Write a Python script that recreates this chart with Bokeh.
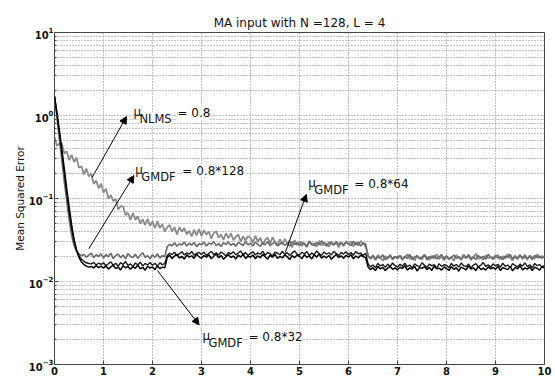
from bokeh.plotting import figure
from bokeh.models import FixedTicker, Arrow, NormalHead, Label, Range1d
from bokeh.embed import file_html
from bokeh.resources import INLINE

TITLE = "MA input with N =128, L = 4"
Y_LABEL = "Mean Squared Error"
X_TICKS = [0, 1, 2, 3, 4, 5, 6, 7, 8, 9, 10]
Y_TICKS = [1e-3, 1e-2, 1e-1, 1e0, 1e1]

# sample times: 0.05 steps from 0 to 10 (201 samples)
T = [round(0.05 * i, 2) for i in range(201)]

# NLMS, mu = 0.8 (grey) -- rows of 20 samples per unit of time
MSE_NLMS = [
    0.55, 0.43, 0.46, 0.46, 0.35, 0.37, 0.29, 0.335, 0.275, 0.31, 0.235, 0.245, 0.195, 0.23, 0.185, 0.20, 0.15, 0.165, 0.133, 0.151,
    0.118, 0.131, 0.099, 0.110, 0.093, 0.099, 0.074, 0.081, 0.080, 0.063, 0.067, 0.055, 0.067, 0.055, 0.061, 0.050, 0.056, 0.048, 0.057, 0.047,
    0.053, 0.044, 0.053, 0.044, 0.049, 0.040, 0.045, 0.048, 0.040, 0.045, 0.037, 0.045, 0.040, 0.044, 0.037, 0.041, 0.035, 0.042, 0.036, 0.043,
    0.0353, 0.0415, 0.0367, 0.0401, 0.0328, 0.0383, 0.0405, 0.0337, 0.0367, 0.0318, 0.0382, 0.0333, 0.0382, 0.0314, 0.0345, 0.0369, 0.0302, 0.0350, 0.0312, 0.0352,
    0.0337, 0.0293, 0.0355, 0.0302, 0.0338, 0.0276, 0.0318, 0.0338, 0.0286, 0.0343, 0.0295, 0.0272, 0.0324, 0.0280, 0.0326, 0.0288, 0.0310, 0.0258, 0.0314, 0.0275,
    0.0301, 0.0268, 0.0292, 0.0259, 0.0305, 0.0276, 0.0288, 0.0262, 0.0310, 0.0271, 0.0296, 0.0283, 0.0264, 0.0302, 0.0277, 0.0293, 0.0258, 0.0299, 0.0272, 0.0307,
    0.0279, 0.0303, 0.0266, 0.0294, 0.0271, 0.0309, 0.0285, 0.0262, 0.0206, 0.0188, 0.0201, 0.0182, 0.0209, 0.0192, 0.0178, 0.0203, 0.0187, 0.0211, 0.0184, 0.0197,
    0.0189, 0.0205, 0.0181, 0.0198, 0.0213, 0.0186, 0.0200, 0.0179, 0.0207, 0.0192, 0.0184, 0.0210, 0.0195, 0.0182, 0.0203, 0.0189, 0.0214, 0.0186, 0.0199, 0.0180,
    0.0204, 0.0188, 0.0196, 0.0177, 0.0208, 0.0193, 0.0185, 0.0212, 0.0190, 0.0201, 0.0181, 0.0198, 0.0216, 0.0187, 0.0194, 0.0183, 0.0206, 0.0191, 0.0200, 0.0185,
    0.0197, 0.0209, 0.0184, 0.0202, 0.0189, 0.0215, 0.0193, 0.0180, 0.0205, 0.0190, 0.0211, 0.0186, 0.0199, 0.0182, 0.0207, 0.0194, 0.0188, 0.0213, 0.0191, 0.0203,
    0.0196]

# GMDF, mu = 0.8*128 (dark grey)
MSE_G128 = [
    1.70, 0.95, 0.52, 0.29, 0.16, 0.092, 0.055, 0.036, 0.027, 0.023, 0.0215, 0.0205, 0.0212, 0.0196, 0.0208, 0.0219, 0.0194, 0.0210, 0.0201, 0.0215,
    0.0192, 0.0211, 0.0198, 0.0220, 0.0189, 0.0206, 0.0215, 0.0193, 0.0209, 0.0187, 0.0218, 0.0200, 0.0194, 0.0213, 0.0190, 0.0207, 0.0222, 0.0196, 0.0204, 0.0188,
    0.0210, 0.0195, 0.0216, 0.0191, 0.0205, 0.0199, 0.0262, 0.0281, 0.0270, 0.0293, 0.0266, 0.0285, 0.0276, 0.0298, 0.0268, 0.0289, 0.0274, 0.0295, 0.0263, 0.0284,
    0.0278, 0.0299, 0.0267, 0.0290, 0.0281, 0.0303, 0.0270, 0.0287, 0.0264, 0.0294, 0.0279, 0.0300, 0.0272, 0.0288, 0.0266, 0.0296, 0.0283, 0.0271, 0.0301, 0.0277,
    0.0290, 0.0268, 0.0297, 0.0280, 0.0265, 0.0292, 0.0276, 0.0304, 0.0271, 0.0286, 0.0299, 0.0269, 0.0283, 0.0295, 0.0273, 0.0289, 0.0266, 0.0302, 0.0279, 0.0293,
    0.0272, 0.0298, 0.0281, 0.0267, 0.0306, 0.0284, 0.0270, 0.0295, 0.0277, 0.0309, 0.0282, 0.0268, 0.0297, 0.0286, 0.0274, 0.0303, 0.0279, 0.0291, 0.0270, 0.0300,
    0.0285, 0.0271, 0.0304, 0.0278, 0.0296, 0.0268, 0.0291, 0.0283, 0.0201, 0.0189, 0.0207, 0.0185, 0.0198, 0.0192, 0.0210, 0.0183, 0.0196, 0.0204, 0.0187, 0.0200,
    0.0193, 0.0206, 0.0186, 0.0199, 0.0190, 0.0212, 0.0184, 0.0197, 0.0203, 0.0188, 0.0195, 0.0209, 0.0182, 0.0200, 0.0191, 0.0205, 0.0187, 0.0198, 0.0211, 0.0189,
    0.0202, 0.0185, 0.0196, 0.0208, 0.0190, 0.0199, 0.0183, 0.0204, 0.0193, 0.0210, 0.0188, 0.0197, 0.0185, 0.0206, 0.0192, 0.0201, 0.0186, 0.0213, 0.0194, 0.0189,
    0.0207, 0.0191, 0.0199, 0.0184, 0.0203, 0.0195, 0.0211, 0.0188, 0.0198, 0.0186, 0.0205, 0.0193, 0.0209, 0.0190, 0.0200, 0.0184, 0.0206, 0.0196, 0.0202, 0.0192,
    0.0198]

# GMDF, mu = 0.8*64 (black)
MSE_G64 = [
    1.70, 1.02, 0.60, 0.35, 0.20, 0.115, 0.068, 0.043, 0.030, 0.024, 0.0205, 0.0185, 0.0175, 0.0168, 0.0165, 0.0163, 0.0170, 0.0158, 0.0166, 0.0161,
    0.0168, 0.0155, 0.0164, 0.0172, 0.0157, 0.0166, 0.0152, 0.0169, 0.0160, 0.0174, 0.0156, 0.0163, 0.0151, 0.0167, 0.0159, 0.0171, 0.0154, 0.0165, 0.0158, 0.0169,
    0.0157, 0.0166, 0.0153, 0.0168, 0.0160, 0.0164, 0.0206, 0.0219, 0.0211, 0.0225, 0.0204, 0.0217, 0.0228, 0.0209, 0.0221, 0.0213, 0.0230, 0.0207, 0.0218, 0.0224,
    0.0212, 0.0226, 0.0205, 0.0219, 0.0231, 0.0210, 0.0222, 0.0208, 0.0227, 0.0216, 0.0203, 0.0224, 0.0214, 0.0229, 0.0209, 0.0220, 0.0233, 0.0211, 0.0223, 0.0206,
    0.0218, 0.0228, 0.0209, 0.0221, 0.0213, 0.0232, 0.0207, 0.0224, 0.0215, 0.0203, 0.0226, 0.0219, 0.0210, 0.0230, 0.0212, 0.0223, 0.0205, 0.0221, 0.0234, 0.0214,
    0.0208, 0.0225, 0.0216, 0.0229, 0.0204, 0.0220, 0.0211, 0.0233, 0.0217, 0.0206, 0.0227, 0.0213, 0.0222, 0.0209, 0.0231, 0.0218, 0.0205, 0.0224, 0.0214, 0.0228,
    0.0210, 0.0223, 0.0207, 0.0230, 0.0215, 0.0221, 0.0206, 0.0219, 0.0163, 0.0150, 0.0158, 0.0147, 0.0165, 0.0154, 0.0160, 0.0148, 0.0162, 0.0152, 0.0167, 0.0155,
    0.0149, 0.0161, 0.0153, 0.0166, 0.0151, 0.0158, 0.0146, 0.0163, 0.0155, 0.0150, 0.0168, 0.0157, 0.0148, 0.0162, 0.0154, 0.0160, 0.0145, 0.0164, 0.0152, 0.0159,
    0.0156, 0.0147, 0.0165, 0.0153, 0.0160, 0.0149, 0.0167, 0.0155, 0.0151, 0.0162, 0.0146, 0.0158, 0.0164, 0.0150, 0.0157, 0.0169, 0.0152, 0.0159, 0.0148, 0.0163,
    0.0154, 0.0161, 0.0149, 0.0166, 0.0152, 0.0158, 0.0147, 0.0164, 0.0156, 0.0150, 0.0162, 0.0153, 0.0168, 0.0151, 0.0159, 0.0146, 0.0165, 0.0155, 0.0160, 0.0149,
    0.0157]

# GMDF, mu = 0.8*32 (black)
MSE_G32 = [
    1.70, 1.08, 0.66, 0.39, 0.23, 0.13, 0.078, 0.048, 0.032, 0.024, 0.0195, 0.0172, 0.0160, 0.0153, 0.0149, 0.0152, 0.0146, 0.0155, 0.0147, 0.0153,
    0.0145, 0.0154, 0.0141, 0.0150, 0.0157, 0.0143, 0.0149, 0.0138, 0.0155, 0.0146, 0.0152, 0.0140, 0.0151, 0.0144, 0.0158, 0.0142, 0.0148, 0.0137, 0.0153, 0.0145,
    0.0150, 0.0139, 0.0154, 0.0143, 0.0149, 0.0146, 0.0195, 0.0207, 0.0189, 0.0203, 0.0212, 0.0192, 0.0200, 0.0186, 0.0209, 0.0197, 0.0204, 0.0190, 0.0214, 0.0198,
    0.0191, 0.0205, 0.0196, 0.0210, 0.0188, 0.0201, 0.0215, 0.0193, 0.0206, 0.0185, 0.0199, 0.0211, 0.0194, 0.0203, 0.0187, 0.0208, 0.0197, 0.0213, 0.0190, 0.0202,
    0.0196, 0.0209, 0.0188, 0.0204, 0.0193, 0.0212, 0.0199, 0.0186, 0.0207, 0.0195, 0.0214, 0.0190, 0.0201, 0.0192, 0.0210, 0.0198, 0.0184, 0.0205, 0.0194, 0.0208,
    0.0200, 0.0189, 0.0211, 0.0195, 0.0203, 0.0187, 0.0209, 0.0197, 0.0215, 0.0191, 0.0202, 0.0193, 0.0206, 0.0185, 0.0199, 0.0212, 0.0194, 0.0204, 0.0190, 0.0207,
    0.0196, 0.0210, 0.0188, 0.0203, 0.0192, 0.0208, 0.0199, 0.0194, 0.0150, 0.0139, 0.0147, 0.0135, 0.0152, 0.0142, 0.0148, 0.0136, 0.0145, 0.0153, 0.0140, 0.0146,
    0.0138, 0.0149, 0.0143, 0.0155, 0.0137, 0.0146, 0.0141, 0.0152, 0.0134, 0.0147, 0.0144, 0.0151, 0.0139, 0.0148, 0.0136, 0.0153, 0.0142, 0.0145, 0.0137, 0.0150,
    0.0143, 0.0136, 0.0151, 0.0140, 0.0147, 0.0133, 0.0149, 0.0144, 0.0138, 0.0154, 0.0141, 0.0146, 0.0135, 0.0152, 0.0139, 0.0145, 0.0137, 0.0150, 0.0142, 0.0148,
    0.0140, 0.0153, 0.0136, 0.0147, 0.0143, 0.0139, 0.0151, 0.0134, 0.0148, 0.0142, 0.0155, 0.0138, 0.0146, 0.0141, 0.0150, 0.0135, 0.0149, 0.0144, 0.0137, 0.0152,
    0.0145]

# annotations: subscript, value text, mu anchor (x, y), arrow tail (x, y), arrow head (x, y), text offset
ANNOTS = [
    ("NLMS", "= 0.8", 1.61, 1.087, 0.77, 0.18, 1.47, 0.97, 44),
    ("GMDF", "= 0.8*128", 1.65, 0.2233, 0.70, 0.0248, 1.62, 0.189, 47),
    ("GMDF", "= 0.8*64", 5.18, 0.1517, 4.71, 0.0224, 5.14, 0.112, 46),
    ("GMDF", "= 0.8*32", 3.02, 0.002234, 2.10, 0.0136, 2.95, 0.0030, 46),
]

FONT = "DejaVu Sans"

p = figure(frame_width=490, frame_height=332, y_axis_type="log",
           x_range=Range1d(0, 10), y_range=Range1d(1e-3, 1e1),
           output_backend="svg", toolbar_location=None,
           min_border_left=54, min_border_right=8, min_border_top=32,
           min_border_bottom=16)

p.title.text = TITLE
p.title.align = "center"
p.title.vertical_align = "middle"
p.title.text_font = FONT
p.title.text_font_size = "12px"
p.title.text_font_style = "normal"
p.title.text_color = "#111111"
p.title.standoff = 3

p.outline_line_color = "#444444"
p.outline_line_width = 1
p.background_fill_color = "white"

p.xaxis.ticker = FixedTicker(ticks=X_TICKS)
minor = [m * d for d in [1e-3, 1e-2, 1e-1, 1e0] for m in range(2, 10)]
p.yaxis.ticker = FixedTicker(ticks=Y_TICKS, minor_ticks=minor)

for ax in (p.xaxis[0], p.yaxis[0]):
    ax.axis_line_color = None
    ax.major_tick_in = 4
    ax.major_tick_out = 0
    ax.minor_tick_in = 2
    ax.minor_tick_out = 0
    ax.major_tick_line_color = "#444444"
    ax.minor_tick_line_color = "#444444"
    ax.major_label_text_font = FONT
    ax.major_label_text_font_size = "10px"
    ax.major_label_text_font_style = "bold"
    ax.major_label_text_color = "#111111"
    ax.major_label_standoff = 1
p.xaxis.minor_tick_line_color = None
p.xaxis.major_label_standoff = 2

p.yaxis.axis_label = Y_LABEL
p.yaxis.axis_label_text_font = FONT
p.yaxis.axis_label_text_font_size = "10.5px"
p.yaxis.axis_label_text_font_style = "normal"
p.yaxis.axis_label_text_color = "#111111"
p.yaxis.axis_label_standoff = 0

p.xgrid.grid_line_color = "#8a8a8a"
p.xgrid.grid_line_dash = "1 2"
p.ygrid.grid_line_color = "#8a8a8a"
p.ygrid.grid_line_dash = "1 2"
p.ygrid.minor_grid_line_color = "#8a8a8a"
p.ygrid.minor_grid_line_dash = "1 2"

def draw(t, y, color, width):
    n = min(len(t), len(y))
    p.line(t[:n], y[:n], line_color=color, line_width=width)

draw(T, MSE_NLMS, "#8a8a8a", 1.8)
draw(T, MSE_G128, "#6a6a6a", 1.6)
draw(T, MSE_G64, "#1a1a1a", 1.4)
draw(T, MSE_G32, "#000000", 1.5)

for sub, rest, mx, my, tx, ty, hx, hy, rdx in ANNOTS:
    p.add_layout(Arrow(end=NormalHead(size=7, fill_color="black", line_color="black"),
                       x_start=tx, y_start=ty, x_end=hx, y_end=hy,
                       line_color="black", line_width=1))
    p.add_layout(Label(x=mx, y=my, x_offset=6, y_offset=-7, text=sub, text_font=FONT,
                       text_font_size="11.5px", text_baseline="alphabetic",
                       text_align="left", text_color="#111111",
                       background_fill_color="white"))
    p.add_layout(Label(x=mx, y=my, x_offset=rdx, y_offset=-1,
                       text=rest, text_font=FONT,
                       text_font_size="12px", text_baseline="alphabetic",
                       text_align="left", text_color="#111111",
                       background_fill_color="white"))
    # mu drawn last so that it stays on top of the subscript box
    p.add_layout(Label(x=mx, y=my, text="\u03bc", text_font=FONT, text_font_size="12px",
                       text_baseline="alphabetic", text_align="left", text_color="#111111"))

open("out.html", "w").write(file_html(p, INLINE))
